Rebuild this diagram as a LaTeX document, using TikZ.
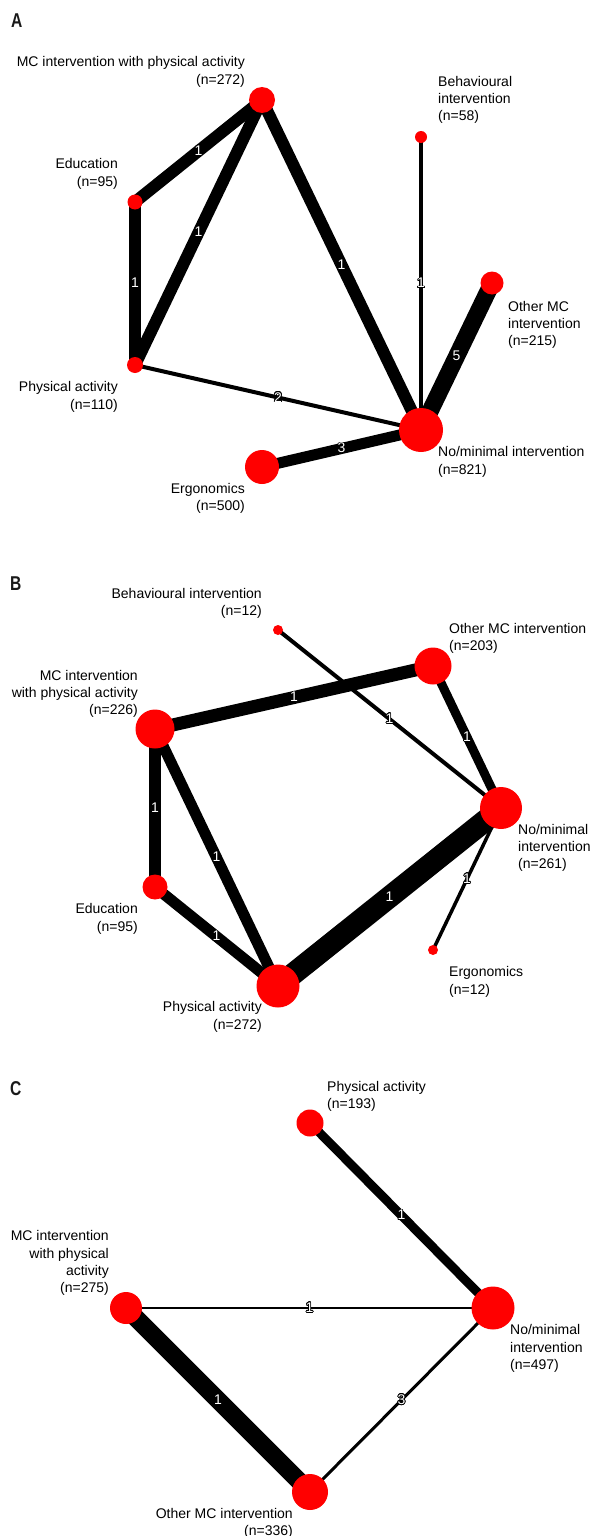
\documentclass[tikz,border=0pt]{standalone}
\usepackage{fontspec}
\setmainfont{Liberation Sans}
\usepackage{contour}
\contourlength{0.7pt}
\pgfdeclarelayer{bg}
\pgfsetlayers{bg,main}
\begin{document}
\begin{tikzpicture}[x=1pt,y=-1pt,
  nd/.style={circle,fill=red,draw=none,inner sep=0pt,minimum size=#1},
  lbl/.style={inner sep=0pt,font=\fontsize{14}{17.3}\selectfont},
  lr/.style={lbl,align=right,anchor=north east},
  ll/.style={lbl,align=left,anchor=north west},
  edge/.style={draw=black,line width=#1},
  elab/.style={text=white,font=\fontsize{14}{14}\selectfont,inner sep=0pt},
  panel/.style={font=\fontsize{20}{20}\selectfont\bfseries,anchor=base west,inner sep=0pt,text=black!90}]
\useasboundingbox (0,0) rectangle (589,1536);

% ---------------- Panel A ----------------
\node[panel] (pA) at (11,28) {\scalebox{0.78}[1]{A}};
\node[nd=26pt] (Amcpa) at (262,100) {};
\node[nd=15pt] (Aedu) at (135,202) {};
\node[nd=16pt] (Apa) at (135,365) {};
\node[nd=34pt] (Aerg) at (262,467) {};
\node[nd=12pt] (Abeh) at (421,137) {};
\node[nd=23pt] (Aoth) at (492,283) {};
\node[nd=44pt] (Anm) at (421,430) {};

\node[lr] (tAmcpa) at (245,56.5) {MC intervention with physical activity\\(n=272)};
\node[lr] (tAedu) at (118,158.5) {Education\\(n=95)};
\node[lr] (tApa) at (118,381.5) {Physical activity\\(n=110)};
\node[lr] (tAerg) at (245,483) {Ergonomics\\(n=500)};
\node[ll] (tAbeh) at (438,76) {Behavioural\\intervention\\(n=58)};
\node[ll] (tAoth) at (508,301) {Other MC\\intervention\\(n=215)};
\node[ll] (tAnm) at (438,446.5) {No/minimal intervention\\(n=821)};

\begin{pgfonlayer}{bg}
\draw[edge=12pt] (Amcpa.center) -- node[elab]{\contour{black}{1}} (Aedu.center);
\draw[edge=12pt] (Amcpa.center) -- node[elab]{\contour{black}{1}} (Apa.center);
\draw[edge=12pt] (Aedu.center) -- node[elab]{\contour{black}{1}} (Apa.center);
\draw[edge=12pt] (Amcpa.center) -- node[elab]{\contour{black}{1}} (Anm.center);
\draw[edge=4pt] (Abeh.center) -- node[elab]{\contour{black}{1}} (Anm.center);
\draw[edge=17pt] (Aoth.center) -- node[elab]{\contour{black}{5}} (Anm.center);
\draw[edge=4pt] (Apa.center) -- node[elab]{\contour{black}{2}} (Anm.center);
\draw[edge=11pt] (Aerg.center) -- node[elab]{\contour{black}{3}} (Anm.center);
\end{pgfonlayer}

% ---------------- Panel B ----------------
\node[panel] (pB) at (10,590) {\scalebox{0.78}[1]{B}};
\node[nd=10pt] (Bbeh) at (278,630) {};
\node[nd=39pt] (Bmcpa) at (155,729) {};
\node[nd=37pt] (Both) at (433,666) {};
\node[nd=42pt] (Bnm) at (501,808) {};
\node[nd=10pt] (Berg) at (433,950) {};
\node[nd=25pt] (Bedu) at (155,887) {};
\node[nd=43pt] (Bpa) at (278,986) {};

\node[lr] (tBbeh) at (262,588) {Behavioural intervention\\(n=12)};
\node[ll] (tBoth) at (449,623) {Other MC intervention\\(n=203)};
\node[lr] (tBmcpa) at (138,670) {MC intervention\\with physical activity\\(n=226)};
\node[ll] (tBnm) at (518,824) {No/minimal\\intervention\\(n=261)};
\node[lr] (tBedu) at (138,903.5) {Education\\(n=95)};
\node[lr] (tBpa) at (262,1001.5) {Physical activity\\(n=272)};
\node[ll] (tBerg) at (449,966.5) {Ergonomics\\(n=12)};

\begin{pgfonlayer}{bg}
\draw[edge=13pt] (Bmcpa.center) -- node[elab]{\contour{black}{1}} (Both.center);
\draw[edge=4pt] (Bbeh.center) -- node[elab]{\contour{black}{1}} (Bnm.center);
\draw[edge=9pt] (Both.center) -- node[elab]{\contour{black}{1}} (Bnm.center);
\draw[edge=12pt] (Bmcpa.center) -- node[elab]{\contour{black}{1}} (Bedu.center);
\draw[edge=11pt] (Bmcpa.center) -- node[elab]{\contour{black}{1}} (Bpa.center);
\draw[edge=11pt] (Bedu.center) -- node[elab]{\contour{black}{1}} (Bpa.center);
\draw[edge=22pt] (Bpa.center) -- node[elab]{\contour{black}{1}} (Bnm.center);
\draw[edge=3.5pt] (Bnm.center) -- node[elab]{\contour{black}{1}} (Berg.center);
\end{pgfonlayer}

% ---------------- Panel C ----------------
\node[panel] (pC) at (10,1095) {\scalebox{0.78}[1]{C}};
\node[nd=27pt] (Cpa) at (310,1123) {};
\node[nd=32pt] (Cmcpa) at (126,1308) {};
\node[nd=43pt] (Cnm) at (493,1308) {};
\node[nd=36pt] (Coth) at (310,1492) {};

\node[ll] (tCpa) at (327,1081) {Physical activity\\(n=193)};
\node[lr] (tCmcpa) at (109,1230.5) {MC intervention\\with physical\\activity\\(n=275)};
\node[lr] (tCoth) at (293,1508) {Other MC intervention\\(n=336)};
\node[ll] (tCnm) at (510,1324.5) {No/minimal\\intervention\\(n=497)};

\begin{pgfonlayer}{bg}
\draw[edge=9pt] (Cpa.center) -- node[elab]{\contour{black}{1}} (Cnm.center);
\draw[edge=2pt] (Cmcpa.center) -- node[elab]{\contour{black}{1}} (Cnm.center);
\draw[edge=18pt] (Cmcpa.center) -- node[elab]{\contour{black}{1}} (Coth.center);
\draw[edge=3pt] (Coth.center) -- node[elab]{\contour{black}{3}} (Cnm.center);
\end{pgfonlayer}
\end{tikzpicture}
\end{document}
